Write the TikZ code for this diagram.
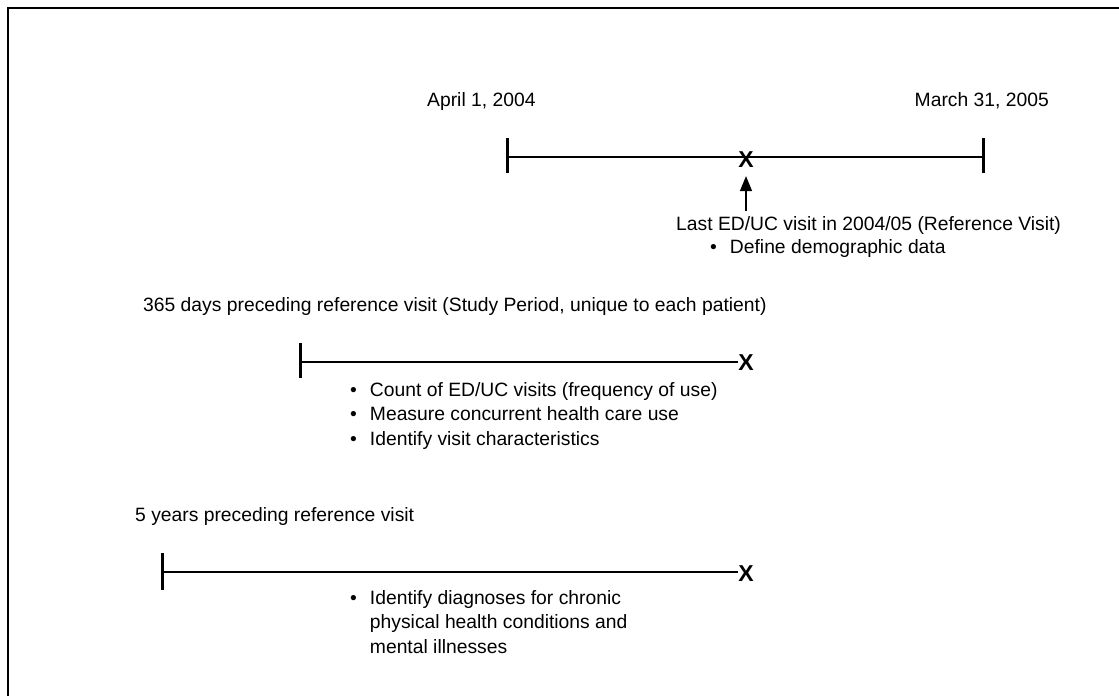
\documentclass[tikz,border=0pt]{standalone}
\usepackage{fontspec}
\setmainfont{Liberation Sans}
\usetikzlibrary{arrows.meta}

\tikzset{
    txt/.style={font=\fontsize{19.3}{24.8}\selectfont, inner sep=0pt, anchor=base west},
    xmark/.style={font=\fontsize{23}{23}\selectfont\bfseries, inner sep=0pt},
    period/.style={line width=2.6pt},
    tickmark/.style={line width=3pt},
}

\begin{document}
\begin{tikzpicture}[x=1pt, y=-1pt]

    % canvas and frame
    \useasboundingbox (0,0) rectangle (1119,696);
    \draw[line width=2pt] (8,696) -- (8,8) -- (1119,8);

    % key coordinates
    \coordinate (FY_start) at (507,157);        % fiscal year start
    \coordinate (FY_end)   at (983,157);        % fiscal year end
    \coordinate (SP_start) at (300,362);        % study period start
    \coordinate (LB_start) at (162,572);        % look-back start
    % reference visit marks
    \node[xmark] (ref_x) at (746,160) {X};
    \node[xmark] (sp_x)  at (746,363) {X};
    \node[xmark] (lb_x)  at (746,574) {X};

    % fiscal year 2004/05
    \node[txt] (fy_from) at (427,106) {April 1, 2004};
    \node[txt, anchor=base east] (fy_to) at (1049,106) {March 31, 2005};
    \draw[period] (FY_start) -- (FY_end);
    \draw[tickmark] (FY_start) ++(0,-19) -- ++(0,35);
    \draw[tickmark] (FY_end) ++(0,-19) -- ++(0,35);
    % reference visit
    \node[txt] (ref_label) at (676,230) {Last ED/UC visit in 2004/05 (Reference Visit)};
    \node[txt] (ref_items) at (710,253) {\begin{tabular}[t]{@{}l@{\hspace{13pt}}l@{}}
        \textbullet & Define demographic data
    \end{tabular}};
    \draw[-{Triangle[length=15pt, width=12pt]}, line width=1.4pt,
        shorten <=5pt, shorten >=8pt] (ref_label.north -| ref_x) -- (ref_x.south);

    % study period
    \node[txt] (sp_label) at (143,311) {365 days preceding reference visit (Study Period, unique to each patient)};
    \draw[period] (SP_start) -- (SP_start -| sp_x.west);
    \draw[tickmark] (SP_start) ++(0,-19) -- ++(0,35);
    \node[txt] (sp_items) at (350,396) {\begin{tabular}[t]{@{}l@{\hspace{13pt}}l@{}}
        \textbullet & Count of ED/UC visits (frequency of use)\\
        \textbullet & Measure concurrent health care use\\
        \textbullet & Identify visit characteristics
    \end{tabular}};

    % 5-year look-back
    \node[txt] (lb_label) at (135,521) {5 years preceding reference visit};
    \draw[period] (LB_start) -- (LB_start -| lb_x.west);
    \draw[tickmark] (LB_start) ++(0,-19) -- ++(0,37);
    \node[txt] (lb_items) at (350,604) {\begin{tabular}[t]{@{}l@{\hspace{13pt}}l@{}}
        \textbullet & Identify diagnoses for chronic\\
                    & physical health conditions and\\
                    & mental illnesses
    \end{tabular}};

\end{tikzpicture}
\end{document}
